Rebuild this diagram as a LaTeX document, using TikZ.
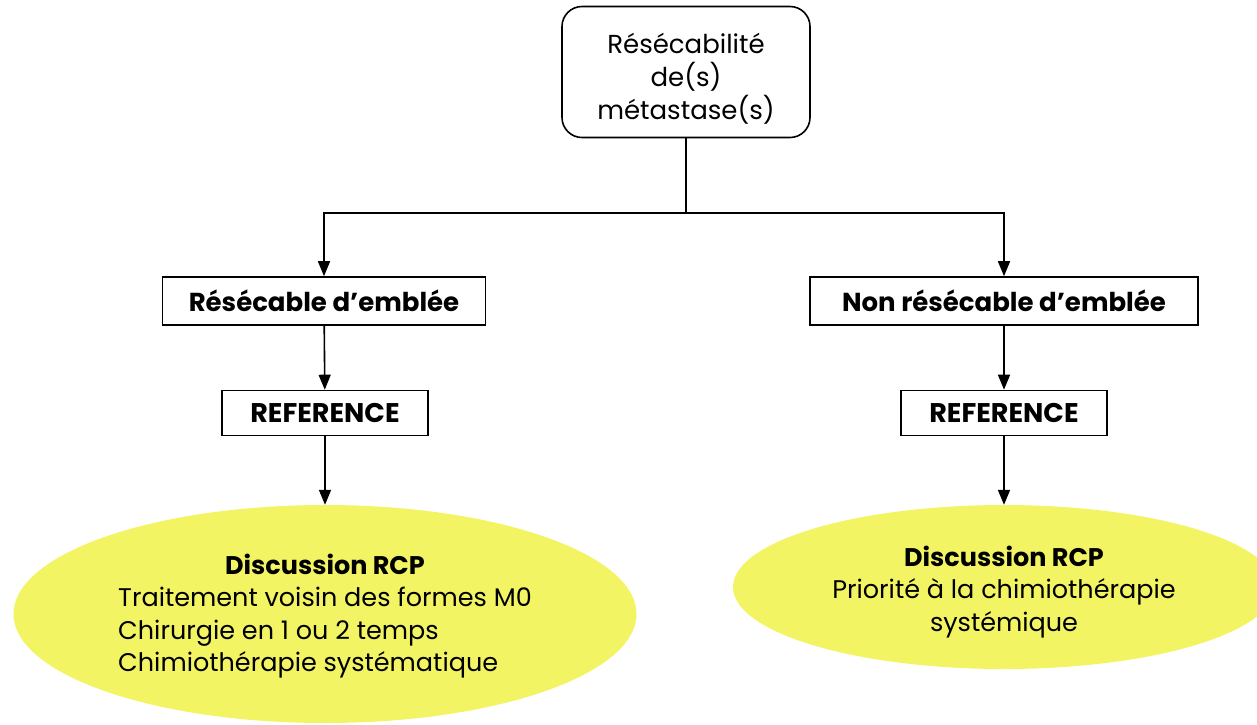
\documentclass[tikz,border=0pt]{standalone}
\usepackage{fontspec}
\setmainfont{Poppins}
\usetikzlibrary{arrows.meta,positioning,shapes.geometric}
\definecolor{rcpyellow}{HTML}{F3F463}

\begin{document}
\begin{tikzpicture}[
    x=1pt, y=-1pt,
    >={Triangle[length=15pt,width=12pt]},
    % Styles
    question/.style={% For the starting box
        rectangle,
        rounded corners=20pt,
        draw,
        line width=1.6pt,
        minimum width=248pt,
        minimum height=131pt,
        align=center,
        font=\fontsize{26}{33}\selectfont,
        },
    choice/.style={% For the two branches
        rectangle,
        draw,
        line width=1.6pt,
        minimum height=48pt,
        font=\fontsize{26}{30}\selectfont\bfseries,
        },
    refbox/.style={% For REFERENCE
        rectangle,
        draw,
        line width=1.6pt,
        minimum width=206pt,
        minimum height=45pt,
        font=\fontsize{27}{30}\selectfont\bfseries,
        },
    rcp/.style={% For the yellow outcomes
        ellipse,
        fill=rcpyellow,
        inner sep=0pt,
        align=center,
        font=\fontsize{25.5}{32.5}\selectfont,
        },
    link/.style={% Connectors
        line width=1.6pt,
        },
    ]

    \useasboundingbox (0,0) rectangle (1257,724);

    % Question
    \node [question] (top) at (686,72) {\rule{0pt}{33pt}Résécabilité\\de(s)\\métastase(s)};

    % Branches
    \node [choice, minimum width=323pt] (res) at (324,301) {Résécable d’emblée};
    \node [choice, minimum width=388pt] (nonres) at (1004,301) {Non résécable d’emblée};
    \node [refbox] (ref1) at (325,413) {REFERENCE};
    \node [refbox] (ref2) at (1004,413) {REFERENCE};

    % Outcomes
    \node [rcp, minimum width=623pt, minimum height=218pt] (rcp1) at (325,614)
        {\rule{0pt}{28pt}\textbf{Discussion RCP}\\
        \begin{tabular}[t]{@{}l@{}}
        Traitement voisin des formes M0\\
        Chirurgie en 1 ou 2 temps\\
        Chimiothérapie systématique
        \end{tabular}};
    \node [rcp, minimum width=542pt, minimum height=164pt] (rcp2) at (1004,587)
        {\rule{0pt}{30pt}\textbf{Discussion RCP}\\Priorité à la chimiothérapie\\systémique};

    % Connectors
    \coordinate (split) at (top |- 0,213);
    \draw [link] (top) -- (split);
    \draw [link, ->] (split) -| (res);
    \draw [link, ->] (split) -| (nonres);
    \draw [link, ->] (res) -- (ref1);
    \draw [link, ->] (nonres) -- (ref2);
    \draw [link, ->] (ref1) -- (rcp1);
    \draw [link, ->] (ref2) -- (rcp2);

\end{tikzpicture}
\end{document}
